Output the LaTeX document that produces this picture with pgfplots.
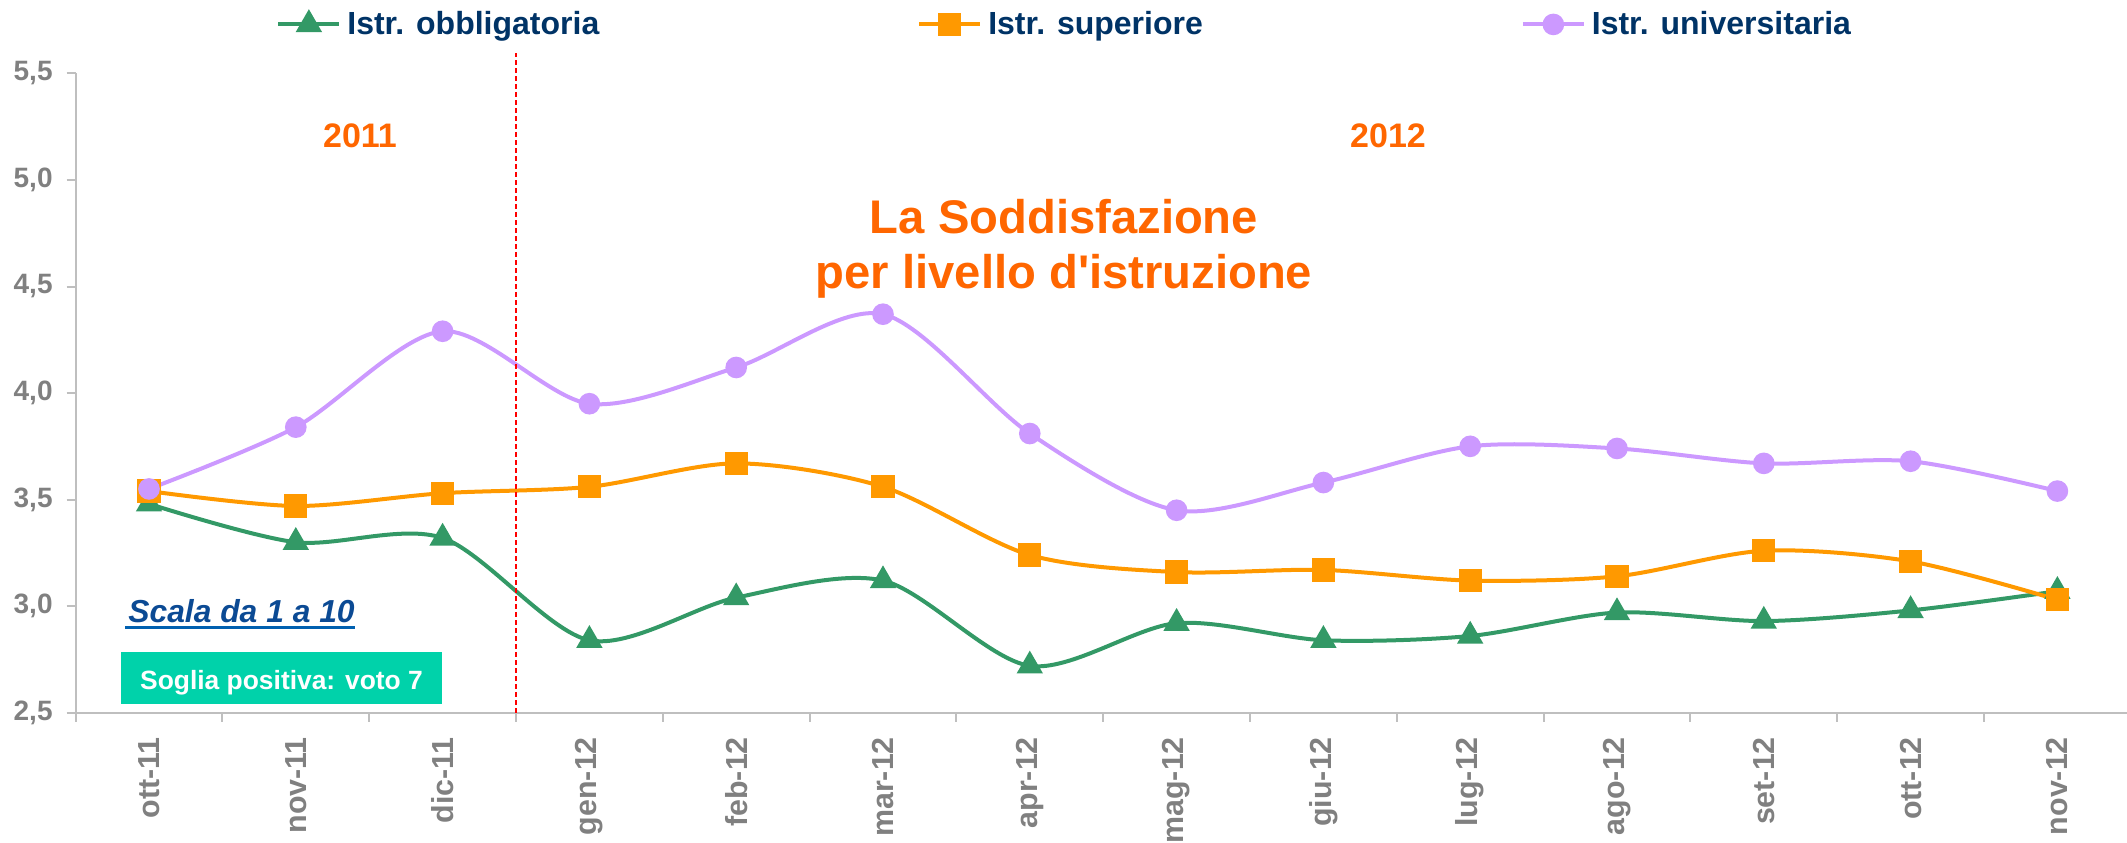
\documentclass[border=0pt]{standalone}
\usepackage{pgfplots}
\pgfplotsset{compat=1.18}
\usepackage{fontspec}
\setmainfont{Liberation Sans}
\definecolor{cgreen}{HTML}{339966}
\definecolor{corange}{HTML}{FF9900}
\definecolor{cpurple}{HTML}{CC99FF}
\definecolor{legblue}{HTML}{003366}
\definecolor{tickgray}{HTML}{808080}
\definecolor{axisgray}{HTML}{BFBFBF}
\definecolor{titleorange}{HTML}{FF6600}
\definecolor{teal}{HTML}{00D2AA}
\definecolor{scalablue}{HTML}{0B4A94}
\definecolor{ulblue}{HTML}{0060B0}
\begin{document}
\begin{tikzpicture}
\path[use as bounding box] (0pt,0pt) rectangle (1063.5pt,421pt);
\begin{axis}[
  at={(37.8pt,64.65pt)}, anchor=south west,
  scale only axis, width=1025.7pt, height=319.65pt,
  xmin=-0.5, xmax=13.474, ymin=2.5, ymax=5.5,
  axis x line=bottom, axis y line=left,
  axis line style={-, draw=axisgray, line width=1pt},
  clip=false,
  xtick={0,...,13},
  xticklabels={ott-11,nov-11,dic-11,gen-12,feb-12,mar-12,apr-12,mag-12,giu-12,lug-12,ago-12,set-12,ott-12,nov-12},
  ytick={2.5,3,3.5,4,4.5,5,5.5},
  minor xtick={-0.5,0.5,1.5,2.5,3.5,4.5,5.5,6.5,7.5,8.5,9.5,10.5,11.5,12.5},
  minor ytick={2.5,3,3.5,4,4.5,5,5.5},
  major tick length=0pt, minor tick length=4.5pt, tick align=outside,
  tick style={draw=axisgray, line width=1pt},
  xticklabel style={rotate=90, anchor=east, inner sep=0pt, font=\bfseries\fontsize{15.2}{15.2}\selectfont, text=tickgray},
  yticklabel style={anchor=east, inner sep=0pt, font=\bfseries\fontsize{14}{14}\selectfont, text=tickgray,
    /pgf/number format/.cd, fixed, fixed zerofill, precision=1, use comma, assume math mode=true},
  xticklabel shift=12pt, yticklabel shift=11.3pt,
  legend columns=3,
  legend image code/.code={\draw[mark repeat=2,mark phase=2,#1] plot coordinates {(0pt,0pt) (15.25pt,0pt) (30.5pt,0pt)};},
  legend style={draw=none, fill=none, at={(0.09769,1.0766)}, anchor=west, inner sep=0pt,
    font=\bfseries\fontsize{16}{16}\selectfont, text=legblue,
    /tikz/every odd column/.append style={column sep=3pt},
    /tikz/every even column/.append style={column sep=159pt},
    nodes={inner sep=0pt}},
]
\addplot[color=cgreen, line width=2pt, smooth, tension=0.5, mark=triangle*, mark size=5.6pt, mark options={solid, fill=cgreen}]
 coordinates {(0,3.48) (1,3.30) (2,3.32) (3,2.84) (4,3.04) (5,3.12) (6,2.72) (7,2.92) (8,2.84) (9,2.86) (10,2.97) (11,2.93) (12,2.98) (13,3.07)};
\addlegendentry{Istr. obbligatoria}
\addplot[color=corange, line width=2pt, smooth, tension=0.5, mark=square*, mark size=4.8pt, mark options={solid, fill=corange}]
 coordinates {(0,3.54) (1,3.47) (2,3.53) (3,3.56) (4,3.67) (5,3.56) (6,3.24) (7,3.16) (8,3.17) (9,3.12) (10,3.14) (11,3.26) (12,3.21) (13,3.03)};
\addlegendentry{Istr. superiore}
\addplot[color=cpurple, line width=2pt, smooth, tension=0.5, mark=*, mark size=4.4pt, mark options={solid, fill=cpurple}]
 coordinates {(0,3.55) (1,3.84) (2,4.29) (3,3.95) (4,4.12) (5,4.37) (6,3.81) (7,3.45) (8,3.58) (9,3.75) (10,3.74) (11,3.67) (12,3.68) (13,3.54)};
\addlegendentry{Istr. universitaria}
\addplot[forget plot, color=red, line width=0.75pt, dash pattern=on 2.5pt off 1.5pt] coordinates {(2.5,2.5) (2.5,5.596)};
\end{axis}
% annotations
\node[anchor=base, text=titleorange, font=\bfseries\fontsize{17}{17}\selectfont, inner sep=0pt] at (180pt,347pt) {2011};
\node[anchor=base, text=titleorange, font=\bfseries\fontsize{17}{17}\selectfont, inner sep=0pt] at (694pt,347pt) {2012};
\node[anchor=base, text=titleorange, font=\bfseries\fontsize{23.6}{23.6}\selectfont, inner sep=0pt] at (532pt,304.35pt) {La Soddisfazione};
\node[anchor=base, text=titleorange, font=\bfseries\fontsize{23.6}{23.6}\selectfont, inner sep=0pt] at (532pt,276.85pt) {per livello d\textquotesingle istruzione};
\node[anchor=base west, text=scalablue, font=\bfseries\itshape\fontsize{15.9}{15.9}\selectfont, inner sep=0pt] at (64pt,110pt) {Scala da 1 a 10};
\draw[ulblue, line width=1.35pt] (62.5pt,107.2pt) -- (177.5pt,107.2pt);
\fill[teal] (60.5pt,69pt) rectangle (221pt,95pt);
\node[anchor=base, text=white, font=\bfseries\fontsize{13.2}{13.2}\selectfont, inner sep=0pt] at (140.75pt,76.5pt) {Soglia positiva: voto 7};
\end{tikzpicture}
\end{document}
